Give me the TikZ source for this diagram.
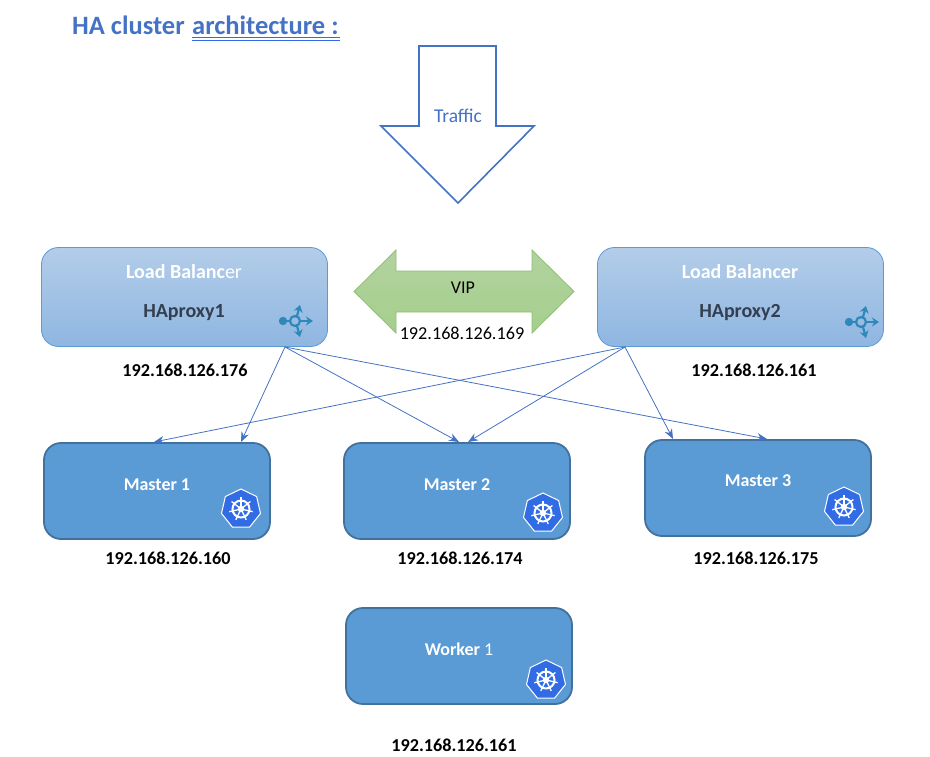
\documentclass[tikz,border=0pt]{standalone}
\usepackage{fontspec}
\setmainfont{Carlito}
\usetikzlibrary{arrows.meta,shapes.geometric}
\definecolor{headblue}{HTML}{4472C4}
\definecolor{masterfill}{HTML}{5B9BD5}
\definecolor{masterline}{HTML}{41719C}
\definecolor{lbtop}{HTML}{B3CDE9}
\definecolor{lbbottom}{HTML}{8FB6E1}
\definecolor{lbline}{HTML}{5B9BD5}
\definecolor{lbdark}{HTML}{333F50}
\definecolor{lbicon}{HTML}{2F88BA}
\definecolor{viptop}{HTML}{B2D2A0}
\definecolor{vipbottom}{HTML}{A5CF8C}
\definecolor{vipline}{HTML}{8CBF70}
\definecolor{kubeblue}{HTML}{326CE5}
\tikzset{
	lbbox/.style={draw=lbline, line width=0.8pt, rounded corners=17pt, top color=lbtop, bottom color=lbbottom, minimum width=286pt, minimum height=99pt},
	masterbox/.style={draw=masterline, line width=1.8pt, rounded corners=17pt, fill=masterfill, minimum width=226pt, minimum height=96pt},
	boxtext/.style={text=white, font=\fontsize{18}{21}\selectfont\bfseries},
	lbtext/.style={text=white, font=\fontsize{20}{24}\selectfont\bfseries, anchor=base},
	lbname/.style={text=lbdark, font=\fontsize{20}{24}\selectfont\bfseries, anchor=base},
	iptext/.style={text=black, font=\fontsize{18.2}{21}\selectfont\bfseries},
	titletext/.style={text=headblue, font=\fontsize{26.5}{30}\selectfont\bfseries, anchor=base west, inner sep=0pt},
	wire/.style={draw=headblue, line width=0.8pt, -{Stealth[length=10pt,width=8pt]}},
	kubehept/.style={draw=white, line width=1pt, fill=kubeblue, regular polygon, regular polygon sides=7, minimum size=40pt, inner sep=0pt}
}
% k8s badge
\def\kubeicon(#1)#2{
	\node[kubehept] (#2) at (#1) {};
	\begin{scope}[shift={(#1)}]
		\draw[white, line width=2pt] (0, 0) circle (8.5);
		\draw[white, fill=white] (0, 0) circle (3);
		\foreach \a in {90, 141.4, 192.8, 244.2, 295.6, 347, 398.4}
			\draw[white, line width=1.3pt] (0, 0) -- ({\a}:-12);
	\end{scope}
}
% balancer badge
\def\lbicon(#1){
	\begin{scope}[shift={(#1)}, draw=lbicon, line width=2.2pt, -{Stealth[length=7pt,width=9pt]}]
		\draw[-] (0, 0) circle (5);
		\draw[fill=lbicon, -] (-12, 0) circle (3);
		\draw[-] (-12, 0) -- (-5, 0);
		\draw (5, 0) -- (18, 0);
		\draw (2, -5) -- (5, -16);
		\draw (2, 5) -- (5, 16);
	\end{scope}
}

\begin{document}
\begin{tikzpicture}[x=1pt, y=-1pt]
	%%%%% START %%%%%
	\useasboundingbox (0, 0) rectangle (930, 757);

	\node[titletext] (titleleft) at (72, 35) {HA cluster};
	\node[titletext] (titleright) at (192, 35) {architecture :};
	\coordinate (ulineleft) at (192, 40);
	\coordinate (ulineright) at (340, 40);
	\draw[kubeblue, line width=0.8pt] (ulineleft) -- (ulineright);
	\draw[kubeblue, line width=0.8pt] ([yshift=3pt]ulineleft) -- ([yshift=3pt]ulineright);

	% big arrow
	\draw[headblue, line width=1.6pt, fill=white] (419, 46) -- (496, 46) -- (496, 126) -- (534, 126) -- (458, 203) -- (381, 126) -- (419, 126) -- cycle;
	\node[text=headblue, font=\fontsize{19.5}{23}\selectfont] (traffic) at (458, 116) {Traffic};

	% vip
	\draw[vipline, line width=0.8pt, top color=viptop, bottom color=vipbottom] (354, 291.5) -- (396, 250) -- (396, 271) -- (532, 271) -- (532, 250) -- (574, 291.5) -- (532, 333) -- (532, 312) -- (396, 312) -- (396, 333) -- cycle;
	\node[font=\fontsize{18}{21}\selectfont] (vip) at (463, 288) {VIP};
	\node[font=\fontsize{18.2}{21}\selectfont, inner sep=0pt] (vipip) at (462, 333) {192.168.126.169};

	% balancers
	\node[lbbox] (lbone) at (184.5, 297) {};
	\node[lbtext] (lbonetop) at (184, 278) {Load Balanc\textmd{er}};
	\node[lbname] (lbonename) at (184, 317) {HAproxy1};
	\lbicon(295, 321)
	\node[iptext] (lboneip) at (185, 370) {192.168.126.176};

	\node[lbbox] (lbtwo) at (740.5, 297) {};
	\node[lbtext] (lbtwotop) at (740, 278) {Load Balancer};
	\node[lbname] (lbtwoname) at (740, 317) {HAproxy2};
	\lbicon(861, 322)
	\node[iptext] (lbtwoip) at (754, 370) {192.168.126.161};

	% masters
	\node[masterbox] (mone) at (157, 491) {};
	\node[boxtext] (monetext) at (157, 485) {Master 1};
	\kubeicon(241, 509){kubeone}
	\node[iptext] (moneip) at (168, 558) {192.168.126.160};

	\node[masterbox] (mtwo) at (457, 491) {};
	\node[boxtext] (mtwotext) at (457, 485) {Master 2};
	\kubeicon(543, 513){kubetwo}
	\node[iptext] (mtwoip) at (460, 558) {192.168.126.174};

	\node[masterbox] (mthree) at (758, 488) {};
	\node[boxtext] (mthreetext) at (758, 481) {Master 3};
	\kubeicon(844, 507){kubethree}
	\node[iptext] (mthreeip) at (756, 558) {192.168.126.175};

	\node[masterbox] (wone) at (459, 656) {};
	\node[boxtext] (wonetext) at (459, 649) {Worker \textmd{1}};
	\kubeicon(546, 680){kubefour}
	\node[iptext] (woneip) at (454, 745) {192.168.126.161};

	% connectors
	\coordinate (lboneout) at (285, 347);
	\coordinate (lbtwoout) at (625, 347);
	\coordinate (monea) at (154, 442);
	\coordinate (moneb) at (241, 442);
	\coordinate (mtwoa) at (459, 442);
	\coordinate (mtwob) at (468, 442);
	\coordinate (mthreea) at (673, 439);
	\coordinate (mthreeb) at (767, 439);

	\draw[wire] (lboneout) -- (moneb);
	\draw[wire] (lboneout) -- (mtwoa);
	\draw[wire] (lboneout) -- (mthreeb);
	\draw[wire] (lbtwoout) -- (monea);
	\draw[wire] (lbtwoout) -- (mtwob);
	\draw[wire] (lbtwoout) -- (mthreea);
	%%%%% END %%%%%
\end{tikzpicture}
\end{document}
